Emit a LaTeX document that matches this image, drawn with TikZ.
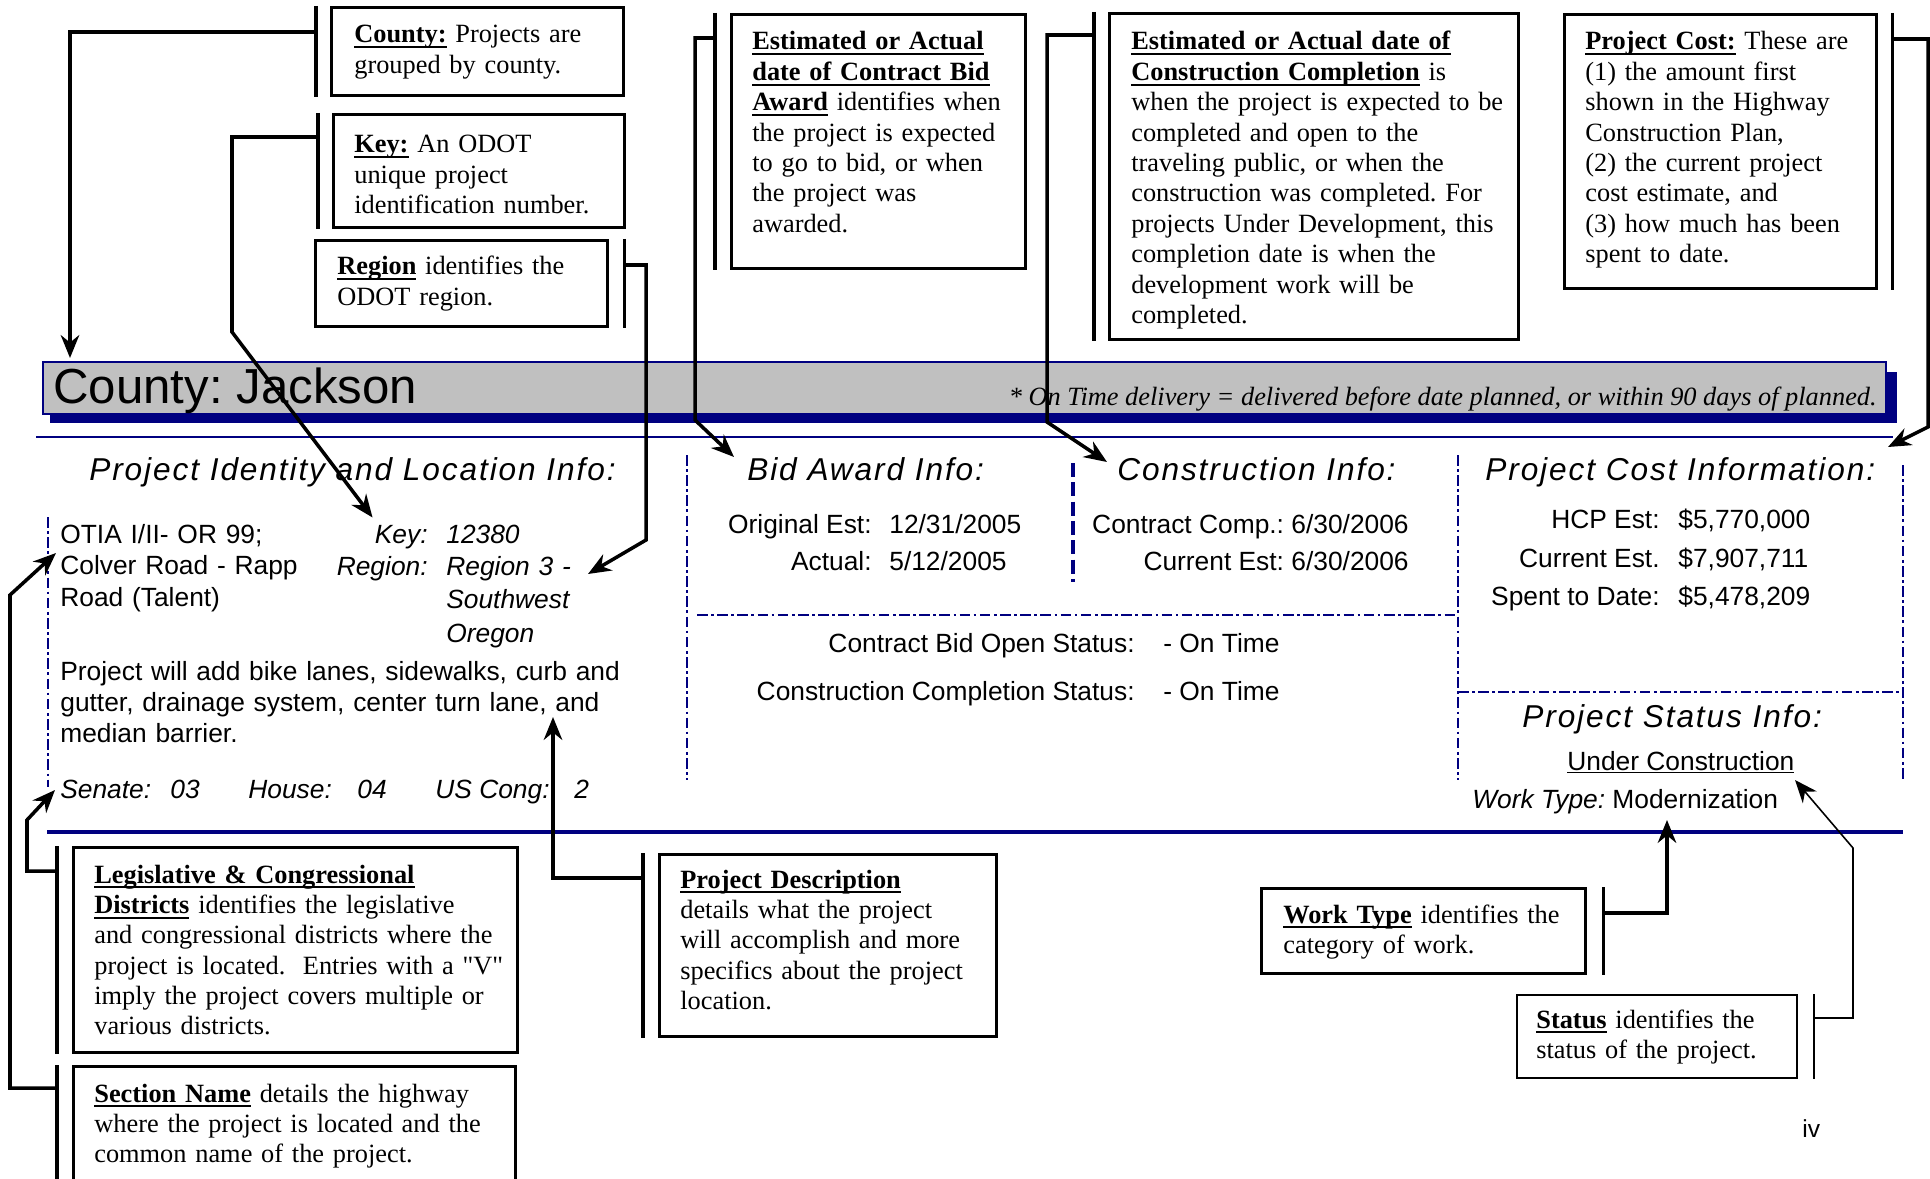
\documentclass[tikz,border=0pt]{standalone}
\usepackage{fontspec}
\setmainfont{Liberation Serif}
\newfontfamily\rptfont{Liberation Sans}
\newfontfamily\hdgfont[LetterSpace=6]{Liberation Sans}
\usetikzlibrary{arrows.meta}
\definecolor{navyblue}{RGB}{0,0,128}
\definecolor{bandgrey}{RGB}{192,192,192}
\newsavebox\hdbox
\newcommand\hd[1]{\leavevmode\sbox\hdbox{\textbf{#1}}\rlap{\rule[-3pt]{\wd\hdbox}{1.1pt}}\usebox\hdbox}
\frenchspacing

\begin{document}
\begin{tikzpicture}[x=0.02cm, y=-0.02cm, >={Stealth[length=13pt,width=10.5pt]},
    callout/.style={draw, line width=1.8pt, anchor=north west, inner sep=0pt},
    note/.style={anchor=base west, inner sep=0pt, align=left, text width=#1, font=\fontsize{15}{17.3}\selectfont},
    brk/.style={line width=1.8pt},
    conn/.style={->, line width=2pt},
    rpt/.style={inner sep=0pt, font=\rptfont\fontsize{15}{18}\selectfont},
    rpti/.style={inner sep=0pt, font=\rptfont\itshape\fontsize{15}{18}\selectfont},
    hdg/.style={inner sep=0pt, anchor=base west, font=\hdgfont\itshape\fontsize{18}{21}\selectfont},
    sep/.style={navyblue, line width=1.1pt, dash pattern=on 6pt off 2pt on 1.5pt off 2pt}]
    \clip (0,0) rectangle (1930,1179);

    \fill[navyblue] (50,372) rectangle (1897,423);
    \node[draw=navyblue, line width=1.2pt, fill=bandgrey, anchor=north west, inner sep=0pt,
        minimum width=36.86cm, minimum height=1.04cm] (band) at (42,361) {};
    \node[inner sep=0pt, anchor=base west, font=\rptfont\fontsize{28}{32}\selectfont] (cntyname) at (53,403) {County: Jackson};
    \node[inner sep=0pt, anchor=base east, font=\fontsize{15}{18}\selectfont\itshape] (ontime) at (1877,405)
        {* On Time delivery = delivered before date planned, or within 90 days of planned.};
    \draw[navyblue, line width=1.7pt] (36,437) -- (1893,437);
    \draw[navyblue, line width=2.8pt] (47,832) -- (1903,832);

    \draw[sep] (48,517) -- (48,787);
    \draw[sep] (687,455) -- (687,780);
    \draw[navyblue, line width=1.8pt, dash pattern=on 8pt off 3pt] (1073,463) -- (1073,582);
    \draw[sep] (1458,455) -- (1458,780);
    \draw[sep] (1903,465) -- (1903,780);
    \draw[sep] (697,615) -- (1458,615);
    \draw[sep] (1458,692) -- (1903,692);

    \node[hdg] (idhd) at (89,480) {Project Identity and Location Info:};
    \node[hdg] (bidhd) at (747,480) {Bid Award Info:};
    \node[hdg] (conshd) at (1117,480) {Construction Info:};
    \node[hdg] (costhd) at (1485,480) {Project Cost Information:};
    \node[hdg] (stathd) at (1522,727) {Project Status Info:};

    \node[rpt, anchor=base west, text width=6cm, align=left, font=\rptfont\fontsize{15}{18.2}\selectfont] (sectname) at (60,543)
        {OTIA I/II- OR 99;\\Colver Road - Rapp\\Road (Talent)};
    \node[rpti, anchor=base east] (keylbl) at (428,543) {Key:};
    \node[rpti, anchor=base west] (keyval) at (446,543) {12380};
    \node[rpti, anchor=base east] (reglbl) at (428,575) {Region:};
    \node[rpti, anchor=base west, text width=4cm, align=left, font=\rptfont\itshape\fontsize{15}{19.3}\selectfont] (regval) at (446,575)
        {Region 3 -\\Southwest\\Oregon};
    \node[rpt, anchor=base west, text width=13cm, align=left, font=\rptfont\fontsize{15}{17.9}\selectfont] (descr) at (60,680)
        {Project will add bike lanes, sidewalks, curb and\\gutter, drainage system, center turn lane, and\\median barrier.};
    \node[rpti, anchor=base west] (senlbl) at (60,798) {Senate:};
    \node[rpti, anchor=base west] (senval) at (170,798) {03};
    \node[rpti, anchor=base west] (houlbl) at (248,798) {House:};
    \node[rpti, anchor=base west] (houval) at (357,798) {04};
    \node[rpti, anchor=base west] (conglbl) at (435,798) {US Cong:};
    \node[rpti, anchor=base west] (congval) at (574,798) {2};

    \node[rpt, anchor=base east] (origlbl) at (872,533) {Original Est:};
    \node[rpt, anchor=base west] (origval) at (889,533) {12/31/2005};
    \node[rpt, anchor=base east] (actlbl) at (872,570) {Actual:};
    \node[rpt, anchor=base west] (actval) at (889,570) {5/12/2005};
    \node[rpt, anchor=base east] (ccomp) at (1409,533) {Contract Comp.: 6/30/2006};
    \node[rpt, anchor=base east] (curest) at (1409,570) {Current Est: 6/30/2006};
    \node[rpt, anchor=base east] (bidstat) at (1135,652) {Contract Bid Open Status:};
    \node[rpt, anchor=base west] (bidstatval) at (1163,652) {- On Time};
    \node[rpt, anchor=base east] (constat) at (1135,700) {Construction Completion Status:};
    \node[rpt, anchor=base west] (constatval) at (1163,700) {- On Time};

    \node[rpt, anchor=base east] (hcplbl) at (1660,528) {HCP Est:};
    \node[rpt, anchor=base west] (hcpval) at (1678,528) {\$5,770,000};
    \node[rpt, anchor=base east] (curlbl) at (1660,567) {Current Est.};
    \node[rpt, anchor=base west] (curval) at (1678,567) {\$7,907,711};
    \node[rpt, anchor=base east] (spentlbl) at (1660,605) {Spent to Date:};
    \node[rpt, anchor=base west] (spentval) at (1678,605) {\$5,478,209};
    \node[rpt, anchor=base west] (uc) at (1567,770) {\underline{Under Construction}};
    \node[rpt, anchor=base west] (wtype) at (1472,808) {\textit{Work Type:} Modernization};
    \node[rpt, anchor=base west, font=\rptfont\fontsize{14}{17}\selectfont] (pagenum) at (1802,1137) {iv};

    \node[callout, minimum width=5.84cm, minimum height=1.76cm] (cnty) at (330,6) {};
    \node[note=5.6cm] (cntytxt) at ([shift={(24,37)}]cnty.north west) {\hd{County:} Projects are\\grouped by county.};
    \draw[brk] ([xshift=-0.28cm]cnty.north west) -- ([xshift=-0.28cm]cnty.south west);

    \node[callout, minimum width=5.82cm, minimum height=2.26cm] (key) at (332,113) {};
    \node[note=5.6cm] (keytxt) at ([shift={(22,40)}]key.north west) {\hd{Key:} An ODOT\\unique project\\identification number.};
    \draw[brk] ([xshift=-0.28cm]key.north west) -- ([xshift=-0.28cm]key.south west);

    \node[callout, minimum width=5.84cm, minimum height=1.72cm] (region) at (314,239) {};
    \node[note=5.6cm] (regiontxt) at ([shift={(23,36)}]region.north west) {\hd{Region} identifies the\\ODOT region.};
    \draw[brk] ([xshift=0.3cm]region.north east) -- ([xshift=0.3cm]region.south east);

    \node[callout, minimum width=5.88cm, minimum height=5.08cm] (bid) at (730,13) {};
    \node[note=5.8cm] (bidtxt) at ([shift={(22,37)}]bid.north west)
        {\hd{Estimated or Actual}\\\hd{date of Contract Bid}\\\hd{Award} identifies when\\the project is expected\\to go to bid, or when\\the project was\\awarded.};
    \draw[brk] ([xshift=-0.3cm]bid.north west) -- ([xshift=-0.3cm]bid.south west);

    \node[callout, minimum width=8.18cm, minimum height=6.52cm] (const) at (1108,12) {};
    \node[note=8cm] (consttxt) at ([shift={(23,38)}]const.north west)
        {\hd{Estimated or Actual date of}\\\hd{Construction Completion} is\\when the project is expected to be\\completed and open to the\\traveling public, or when the\\construction was completed. For\\projects Under Development, this\\completion date is when the\\development work will be\\completed.};
    \draw[brk] ([xshift=-0.28cm]const.north west) -- ([xshift=-0.28cm]const.south west);

    \node[callout, minimum width=6.24cm, minimum height=5.48cm] (cost) at (1563,13) {};
    \node[note=6cm] (costtxt) at ([shift={(22,37)}]cost.north west)
        {\hd{Project Cost:} These are\\(1) the amount first\\shown in the Highway\\Construction Plan,\\(2) the current project\\cost estimate, and\\(3) how much has been\\spent to date.};
    \draw[brk] ([xshift=0.28cm]cost.north east) -- ([xshift=0.28cm]cost.south east);

    \node[callout, minimum width=8.88cm, minimum height=4.10cm] (legis) at (72,846) {};
    \node[note=9cm] (legistxt) at ([shift={(22,37)}]legis.north west)
        {\hd{Legislative \& Congressional}\\\hd{Districts} identifies the legislative\\and congressional districts where the\\project is located.\ \ Entries with a \textquotedbl V\textquotedbl\\imply the project covers multiple or\\various districts.};
    \draw[brk] ([xshift=-0.3cm]legis.north west) -- ([xshift=-0.3cm]legis.south west);

    \node[callout, minimum width=8.84cm, minimum height=2.8cm] (sect) at (72,1065) {};
    \node[note=9cm] (secttxt) at ([shift={(22,37)}]sect.north west)
        {\hd{Section Name} details the highway\\where the project is located and the\\common name of the project.};
    \draw[brk] ([xshift=-0.3cm]sect.north west) -- ([xshift=-0.3cm]sect.south west);

    \node[callout, minimum width=6.74cm, minimum height=3.64cm] (desc) at (658,853) {};
    \node[note=6.6cm] (desctxt) at ([shift={(22,35)}]desc.north west)
        {\hd{Project Description}\\details what the project\\will accomplish and more\\specifics about the project\\location.};
    \draw[brk] ([xshift=-0.3cm]desc.north west) -- ([xshift=-0.3cm]desc.south west);

    \node[callout, minimum width=6.48cm, minimum height=1.70cm] (wtbox) at (1260,887) {};
    \node[note=6.4cm] (wttxt) at ([shift={(23,36)}]wtbox.north west) {\hd{Work Type} identifies the\\category of work.};
    \draw[brk] ([xshift=0.32cm]wtbox.north east) -- ([xshift=0.32cm]wtbox.south east);

    \node[callout, line width=1.1pt, minimum width=5.60cm, minimum height=1.66cm] (statbox) at (1516,994) {};
    \node[note=5.6cm] (stattxt) at ([shift={(20,34)}]statbox.north west) {\hd{Status} identifies the\\status of the project.};
    \draw[line width=1.1pt] ([xshift=0.32cm]statbox.north east) -- ([xshift=0.32cm]statbox.south east);

    \draw[conn] ([shift={(-14,26)}]cnty.north west) -| ([shift={(28,-3)}]band.north west);
    \draw[conn] ([shift={(-14,24)}]key.north west) -| (232,332) -- ([shift={(-2,-7)}]keylbl.north west);
    \draw[conn] ([shift={(15,26)}]region.north east) -| (646,540) -- ([shift={(142,-1)}]regval.base west);
    \draw[conn] ([shift={(-15,25)}]bid.north west) -| (695,420) -- ([shift={(-13,-23)}]bidhd.base west);
    \draw[conn] ([shift={(-14,23)}]const.north west) -| (1047,422) -- ([shift={(-10,-18)}]conshd.base west);
    \draw[conn] ([shift={(14,26)}]cost.north east) -| (1928,427) -- ([shift={(403,-33)}]costhd.base west);
    \draw[conn] ([shift={(-15,25)}]legis.north west) -| (27,820) -- ([shift={(-5,-8)}]senlbl.base west);
    \draw[conn] ([shift={(-15,23)}]sect.north west) -| (10,595) -- ([shift={(-4,10)}]sectname.base west);
    \draw[conn] ([shift={(-15,25)}]desc.north west) -| ([shift={(493,37)}]descr.base west);
    \draw[conn] ([shift={(16,26)}]wtbox.north east) -| ([shift={(195,12)}]wtype.base west);
    \draw[conn, line width=0.9pt] ([shift={(16,24)}]statbox.north east) -| (1853,848) -- ([shift={(228,10)}]uc.base west);
\end{tikzpicture}
\end{document}
